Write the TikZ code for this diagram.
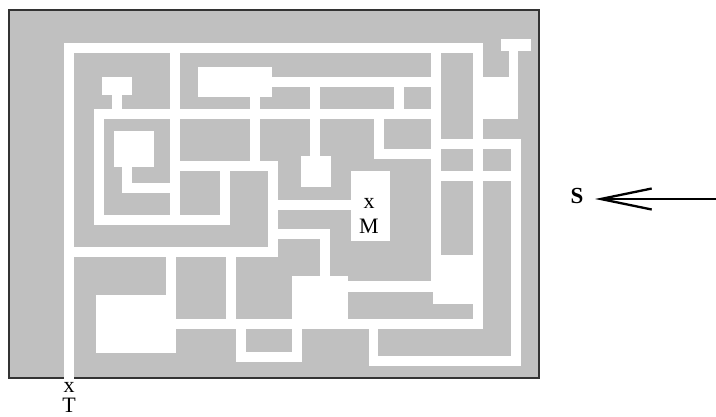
\documentclass[tikz,border=0pt]{standalone}
\usepackage{fontspec}
\setmainfont{Liberation Serif}
\usetikzlibrary{arrows.meta}
\definecolor{wallgray}{HTML}{C0C0C0}
\definecolor{framedark}{HTML}{333333}
\begin{document}
\begin{tikzpicture}[
  x=1pt, y=-1pt,
  wall/.style={draw=framedark, fill=wallgray, line width=1.6pt},
  room/.style={fill=white},
  tag/.style={font=\fontsize{22}{22}\selectfont, text=black, inner sep=0pt},
  windarrow/.style={draw=black, line width=2.4pt,
    {Straight Barb[length=51pt,width=21pt,line width=2.3pt]}-}
]
\useasboundingbox (0,0) rectangle (716,416);

\draw[wall] (8.8,10) rectangle (539,378);

% corridors, as left/top/right/bottom
\foreach \xa/\ya/\xb/\yb in {
  64/43/74/380, 64/43/483/53, 473/43/483/329, 431/43/441/292,
  501/39/531/51, 509/51/518/77, 483/77/518/119,
  431/139/521/149, 431/171/521/181, 511/139/521/366,
  369/356/521/366, 369/329/378/366, 176/319/483/329,
  431/255/473/292, 433/292/473/304, 348/281/431/292,
  94/109/431/119, 94/109/104/225, 94/215/230/225,
  170/53/180/215, 220/171/230/225, 122/183/170/193,
  122/167/132/193, 114/131/154/167,
  102/77/132/95, 112/95/122/109,
  198/67/272/97, 250/97/260/161, 272/77/431/87,
  310/87/320/109, 394/87/404/109,
  170/161/278/171, 268/161/278/257, 64/247/278/257,
  310/119/320/156, 301/156/331/187,
  374/119/384/159, 374/149/431/159,
  351/171/390/241, 268/200/351/210,
  278/229/330/239, 320/229/330/276, 292/276/348/319,
  166/257/176/295, 96/295/176/353,
  226/257/236/329, 236/329/246/362, 236/352/302/362, 292/329/302/362}{
  \fill[room] (\xa,\ya) rectangle (\xb,\yb);
}

\node[tag] (markm) at (369,203) {x};
\node[tag] (labelm) at (369,226) {M};
\node[tag] (markt) at (69,387) {x};
\node[tag] (labelt) at (69,405) {T};
\node[tag, font=\fontsize{23}{23}\selectfont\bfseries] (labels) at (577,196) {S};

\coordinate (windtail) at (716,199);
\coordinate (windhead) at (595,199);
\draw[windarrow] (windhead) -- (windtail);
\end{tikzpicture}
\end{document}
